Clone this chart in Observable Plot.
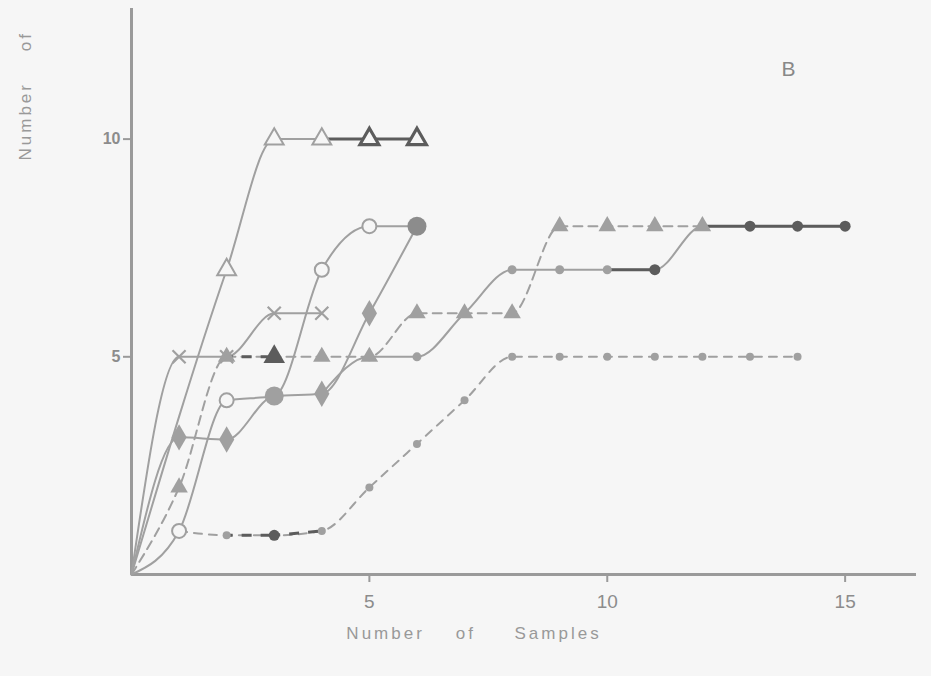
<!DOCTYPE html>
<html><head><meta charset="utf-8">
<script src="https://cdn.jsdelivr.net/npm/d3@7"></script>
<script src="https://cdn.jsdelivr.net/npm/@observablehq/plot@0.6"></script>
<style>
body{margin:0;background:#f6f6f6;}
#chart svg{display:block;}
.spaced text{letter-spacing:3px;white-space:pre;}
</style>
</head><body><div id="chart"></div>
<script>
// ---- data ----
const xTicks = [5, 10, 15];
const yTicks = [5, 10];
const panelLabel = "B";
const xLabel = "Number    of     Samples";
const yLabel = "Number    of";

// open triangles, solid
const aX = [0, 2, 3, 4, 5, 6];
const aY = [0, 7, 10, 10, 10, 10];
// open circles, solid
const bX = [0, 1, 2, 3, 4, 5, 6];
const bY = [0, 1, 4, 4.1, 7, 8, 8];
// filled diamonds, solid
const cX = [0, 1, 2, 3, 4, 5, 6];
const cY = [0, 3.15, 3.1, 4.1, 4.15, 6, 8];
// crosses, solid
const dX = [0, 1, 2, 3, 4];
const dY = [0, 5, 5, 6, 6];
// filled triangles, dashed
const eX = [0, 1, 2, 3, 4, 5, 6, 7, 8, 9, 10, 11, 12];
const eY = [0, 2, 5, 5, 5, 5, 6, 6, 6, 8, 8, 8, 8];
// small dots, solid
const fX = [4, 5, 6, 7, 8, 9, 10, 11, 12, 13, 14, 15];
const fY = [4.15, 5, 5, 6, 7, 7, 7, 7, 8, 8, 8, 8];
// small dots, dashed
const gX = [1, 2, 3, 4, 5, 6, 7, 8, 9, 10, 11, 12, 13, 14];
const gY = [1, 0.9, 0.9, 1, 2, 3, 4, 5, 5, 5, 5, 5, 5, 5];

// ---- styling (rendering code) ----
const GREY = "#a0a0a0", DARK = "#5c5c5c", BG = "#f6f6f6", AXIS = "#9a9a9a";
const defs = [
  {key: "A", xs: aX, ys: aY, dash: null},
  {key: "B", xs: bX, ys: bY, dash: null},
  {key: "C", xs: cX, ys: cY, dash: null},
  {key: "D", xs: dX, ys: dY, dash: null},
  {key: "E", xs: eX, ys: eY, dash: "9,6"},
  {key: "F", xs: fX, ys: fY, dash: null},
  {key: "G", xs: gX, ys: gY, dash: "8,7"}
];
const rows = defs.flatMap(s => s.xs.map((x, i) => ({key: s.key, x, y: s.ys[i], i})));
const darkPts = new Set(["A:5", "A:6", "E:3", "F:11", "F:13", "F:14", "F:15", "G:3"]);
const darkSolid = new Set(["A:4", "A:5", "F:10", "F:12", "F:13", "F:14"]);
const darkDashed = new Set(["G:2", "G:3", "E:2"]);
const bigPts = new Set(["C:3", "C:6"]);
const id = d => d.key + ":" + d.x;
const segsOf = set => {
  const out = [];
  for (const s of defs) for (let i = 0; i + 1 < s.xs.length; i++) {
    if (set.has(s.key + ":" + s.xs[i])) {
      out.push({x1: s.xs[i], y1: s.ys[i], x2: s.xs[i + 1], y2: s.ys[i + 1]});
    }
  }
  return out;
};
const notOrigin = d => !(d.x === 0 && d.y === 0);
const pick = (k, extra = () => true) => rows.filter(d => d.key === k && notOrigin(d) && extra(d));

const marks = [
  Plot.ruleX([0], {y1: 0, y2: 13, stroke: AXIS, strokeWidth: 3}),
  Plot.ruleY([0], {x1: 0, x2: 16.5, stroke: AXIS, strokeWidth: 3}),
  Plot.axisX({ticks: xTicks, tickSize: 8, tickPadding: 12, stroke: AXIS, strokeWidth: 2,
    fontSize: 19, fill: "#8c8c8c", label: null, fontFamily: "Liberation Sans Narrow, Liberation Sans, sans-serif"}),
  Plot.axisY({ticks: yTicks, tickSize: 8, tickPadding: 3, stroke: AXIS, strokeWidth: 2,
    fontSize: 16, fontWeight: "bold", fill: "#8c8c8c", label: null, fontFamily: "Liberation Sans, sans-serif"}),
];
for (const s of defs) {
  marks.push(Plot.line(rows.filter(d => d.key === s.key), {
    x: "x", y: "y", curve: "monotone-x", stroke: GREY, strokeWidth: 2,
    strokeDasharray: s.dash ?? undefined
  }));
}
marks.push(
  Plot.link(segsOf(darkSolid), {x1: "x1", y1: "y1", x2: "x2", y2: "y2", stroke: DARK, strokeWidth: 3}),
  Plot.link(segsOf(darkDashed), {x1: "x1", y1: "y1", x2: "x2", y2: "y2", stroke: DARK, strokeWidth: 3,
    strokeDasharray: "10,9", strokeDashoffset: 4})
);

marks.push(
  Plot.dot(pick("G", d => d.x > 1), {x: "x", y: "y", r: d => darkPts.has(id(d)) ? 5.5 : 4,
    fill: d => darkPts.has(id(d)) ? DARK : GREY}),
  Plot.dot(pick("F", d => d.x > 4), {x: "x", y: "y", r: d => darkPts.has(id(d)) ? 5.5 : 4.5,
    fill: d => darkPts.has(id(d)) ? DARK : GREY}),
  Plot.dot(pick("E"), {x: "x", y: "y", symbol: "triangle", r: d => darkPts.has(id(d)) ? 8 : 6.5,
    fill: d => darkPts.has(id(d)) ? DARK : GREY}),
  Plot.dot(pick("C", d => !bigPts.has(id(d))), {x: "x", y: "y", symbol: "diamond", r: 8, fill: GREY}),
  Plot.dot(pick("C", d => bigPts.has(id(d))), {x: "x", y: "y", r: 9.5, fill: d => d.x > 4 ? "#8c8c8c" : GREY}),
  Plot.dot(pick("D"), {x: "x", y: "y", symbol: "times", r: 6, stroke: GREY, strokeWidth: 2.2}),
  Plot.dot(pick("B", d => d.x !== 3 && d.x !== 6), {x: "x", y: "y", r: 7, fill: BG, stroke: GREY, strokeWidth: 2}),
  Plot.dot(pick("A"), {x: "x", y: "y", symbol: "triangle", r: 7,
    fill: BG, stroke: d => darkPts.has(id(d)) ? DARK : GREY, strokeWidth: d => darkPts.has(id(d)) ? 3.2 : 2}),
  Plot.text([panelLabel], {frameAnchor: "top-right", dx: -121, dy: 53, fontSize: 21,
    fill: "#888", fontFamily: "Liberation Sans, sans-serif"}),
  Plot.text([xLabel], {frameAnchor: "bottom", dx: -50, dy: 64, fontSize: 17, fill: "#999",
    fontFamily: "Liberation Sans, sans-serif", className: "spaced"}),
  Plot.text([yLabel], {frameAnchor: "top-left", dx: -113, dy: 152, rotate: -90, textAnchor: "start",
    fontSize: 17, fill: "#999", fontFamily: "Liberation Sans, sans-serif", className: "spaced"})
);

const chart = Plot.plot({
  width: 931, height: 676,
  marginLeft: 131, marginRight: 15, marginTop: 8, marginBottom: 102,
  x: {domain: [0, 16.5]},
  y: {domain: [0, 13]},
  r: {type: "identity"},
  style: {background: BG, overflow: "visible"},
  marks
});
document.getElementById("chart").append(chart);
</script>
</body></html>
